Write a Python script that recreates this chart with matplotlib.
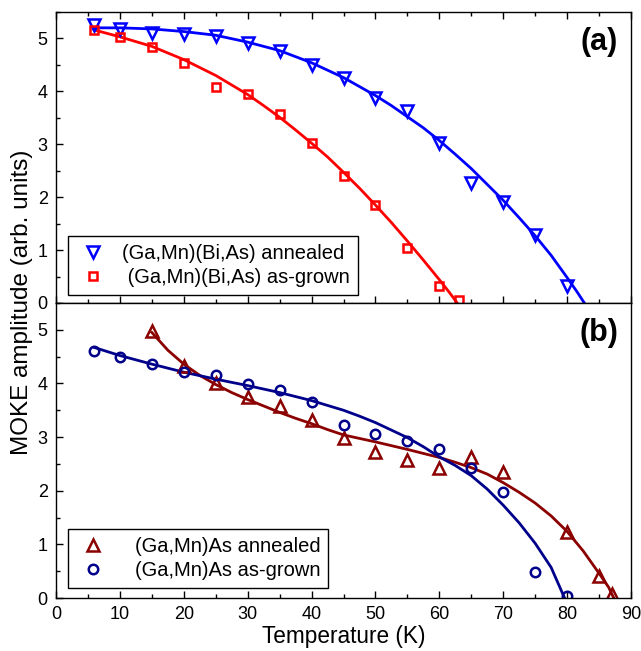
import matplotlib
matplotlib.use("Agg")
import matplotlib.pyplot as plt
from matplotlib.ticker import MultipleLocator

plt.rcParams.update({
    "font.family": ["Liberation Sans", "DejaVu Sans"],
    "font.size": 13,
    "axes.linewidth": 1.0,
    "xtick.direction": "in",
    "ytick.direction": "in",
})

# (a) (Ga,Mn)(Bi,As) measured points
t_bi_ann = [6, 10, 15, 20, 25, 30, 35, 40, 45, 50, 55, 60, 65, 70, 75, 80]
m_bi_ann = [5.25, 5.18, 5.10, 5.08, 5.05, 4.92, 4.77, 4.50, 4.25, 3.88, 3.63, 3.03, 2.27, 1.90, 1.28, 0.33]
t_bi_grown = [6, 10, 15, 20, 25, 30, 35, 40, 45, 50, 55, 60, 63]
m_bi_grown = [5.15, 5.02, 4.83, 4.53, 4.08, 3.95, 3.58, 3.02, 2.40, 1.85, 1.03, 0.33, 0.05]

# (a) fitted curves
tf_bi_ann = [6, 10, 15, 20, 25, 30, 35, 40, 45, 50, 52.5, 55, 57.5, 60, 62.5, 65, 67.5, 70,
             72.5, 75, 77.5, 80, 81.5, 82.7]
mf_bi_ann = [5.20, 5.20, 5.18, 5.13, 5.06, 4.93, 4.77, 4.54, 4.26, 3.92, 3.73, 3.52, 3.31, 3.07,
             2.81, 2.54, 2.24, 1.94, 1.61, 1.27, 0.90, 0.48, 0.22, 0.0]
tf_bi_grown = [6, 10, 15, 20, 25, 30, 32.5, 35, 37.5, 40, 42.5, 45, 47.5, 50, 52.5, 55, 57.5,
               60, 61.5, 62.8]
mf_bi_grown = [5.16, 5.03, 4.85, 4.60, 4.30, 3.94, 3.73, 3.51, 3.27, 3.02, 2.76, 2.47, 2.17,
               1.85, 1.52, 1.17, 0.81, 0.44, 0.21, 0.0]

# (b) (Ga,Mn)As measured points
t_as_ann = [15, 20, 25, 30, 35, 40, 45, 50, 55, 60, 65, 70, 80, 85, 87]
m_as_ann = [4.97, 4.33, 4.01, 3.75, 3.58, 3.32, 2.98, 2.72, 2.57, 2.42, 2.63, 2.34, 1.23, 0.41, 0.07]
t_as_grown = [6, 10, 15, 20, 25, 30, 35, 40, 45, 50, 55, 60, 65, 70, 75, 80]
m_as_grown = [4.60, 4.50, 4.37, 4.21, 4.15, 3.99, 3.88, 3.66, 3.22, 3.05, 2.93, 2.77, 2.42, 1.98,
              0.48, 0.03]

# (b) fitted curves
tf_as_ann = [15, 17.5, 20, 22.5, 25, 27.5, 30, 32.5, 35, 37.5, 40, 42.5, 45, 50, 55, 60, 62.5,
             65, 67.5, 70, 72.5, 75, 77.5, 80, 82.5, 85, 86.5, 87.3]
mf_as_ann = [4.95, 4.62, 4.36, 4.15, 3.98, 3.83, 3.70, 3.58, 3.46, 3.35, 3.25, 3.14, 3.04, 2.91,
             2.77, 2.62, 2.53, 2.43, 2.31, 2.15, 1.97, 1.77, 1.53, 1.24, 0.88, 0.46, 0.20, 0.0]
tf_as_grown = [6, 10, 15, 20, 25, 30, 35, 40, 45, 47.5, 50, 52.5, 55, 57.5, 60, 62.5, 65, 67.5,
               70, 72.5, 75, 77.5, 79.6]
mf_as_grown = [4.67, 4.52, 4.36, 4.21, 4.08, 3.96, 3.83, 3.68, 3.50, 3.39, 3.27, 3.13, 2.99, 2.82,
               2.63, 2.47, 2.28, 2.03, 1.73, 1.40, 1.02, 0.57, 0.0]

fig = plt.figure(figsize=(6.41, 6.51), dpi=100)
ax_a = fig.add_axes([0.0874, 0.5346, 0.897, 0.4470])
ax_b = fig.add_axes([0.0874, 0.0814, 0.897, 0.4532], sharex=ax_a)

mk = dict(linestyle="none", markerfacecolor="none", markeredgewidth=1.8)

ax_a.plot(tf_bi_ann, mf_bi_ann, color="#0000ff", lw=2.0)
ax_a.plot(tf_bi_grown, mf_bi_grown, color="#ff0000", lw=2.0)
ax_a.plot(t_bi_ann, m_bi_ann, marker="v", ms=8, color="#0000ff", **mk,
          label="(Ga,Mn)(Bi,As) annealed")
ax_a.plot(t_bi_grown, m_bi_grown, marker="s", ms=6.3, color="#ff0000", **mk,
          label=" (Ga,Mn)(Bi,As) as-grown")

ax_b.plot(tf_as_ann, mf_as_ann, color="#8b0000", lw=2.0)
ax_b.plot(tf_as_grown, mf_as_grown, color="#00008b", lw=2.0)
ax_b.plot(t_as_ann, m_as_ann, marker="^", ms=8, color="#8b0000", **mk,
          label="(Ga,Mn)As annealed")
ax_b.plot(t_as_grown, m_as_grown, marker="o", ms=6.8, color="#00008b", **mk,
          label="(Ga,Mn)As as-grown")

for ax, tag in ((ax_a, "(a)"), (ax_b, "(b)")):
    ax.set_xlim(0, 90)
    ax.set_ylim(0, 5.5)
    ax.xaxis.set_major_locator(MultipleLocator(10))
    ax.xaxis.set_minor_locator(MultipleLocator(5))
    ax.yaxis.set_major_locator(MultipleLocator(1))
    ax.yaxis.set_minor_locator(MultipleLocator(0.5))
    ax.tick_params(which="major", length=5, width=1.0, pad=6)
    ax.tick_params(which="minor", length=3, width=1.0)
    ax.text(0.944, 0.897, tag, transform=ax.transAxes, ha="center", va="center",
            fontsize=22, fontweight="bold")

ax_a.tick_params(which="both", top=True, labelbottom=False)

leg_kw = dict(loc="lower left", borderaxespad=0, fancybox=False, framealpha=1,
              edgecolor="black", numpoints=1, handlelength=1.7, borderpad=0.4,
              labelspacing=0.25, fontsize=14.5)
la = ax_a.legend(bbox_to_anchor=(0.021, 0.027), handletextpad=0.6, **leg_kw)
lb = ax_b.legend(bbox_to_anchor=(0.021, 0.034), handletextpad=1.2, **leg_kw)
for lg in (la, lb):
    lg.get_frame().set_linewidth(1.0)

ax_b.set_xlabel("Temperature (K)", fontsize=16.3, labelpad=1)
fig.text(0.034, 0.536, "MOKE amplitude (arb. units)", rotation=90, ha="center",
         va="center", fontsize=17.5)

fig.savefig("out.png", dpi=100)
